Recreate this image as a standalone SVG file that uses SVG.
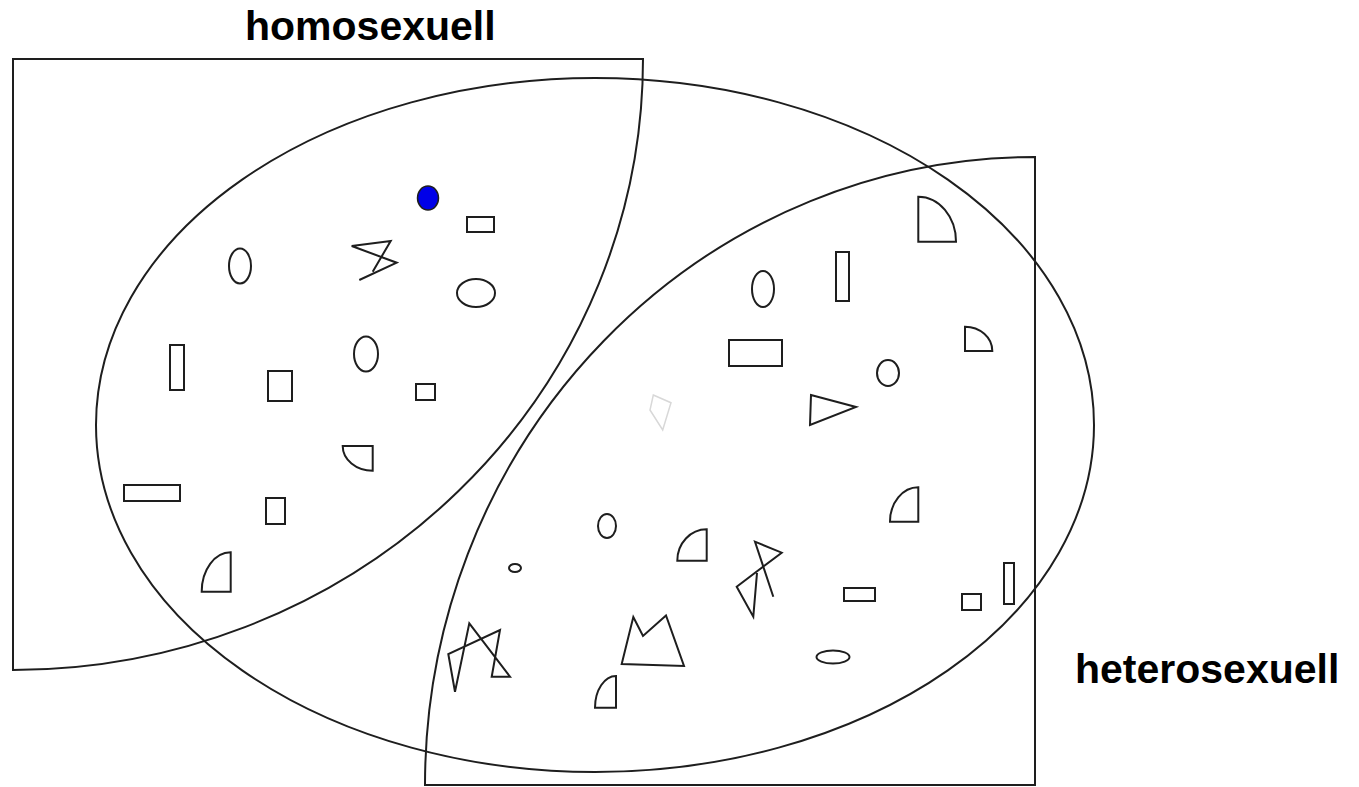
<svg xmlns="http://www.w3.org/2000/svg" width="1359" height="787" viewBox="0 0 1359 787">
<style>
.ln{fill:none;stroke:#1e1e1e;stroke-width:2;stroke-linejoin:miter}
.sh{fill:#fff;stroke:#1e1e1e;stroke-width:2;stroke-linejoin:miter}
.lbl{font-family:"Liberation Sans",Arial,sans-serif;font-weight:bold;font-size:41px;fill:#000}
</style>
<rect width="1359" height="787" fill="#fff"/>
<g id="sets">
  <path id="homo-set" class="ln" d="M13,59 H643 A630,611 0 0 1 13,670 Z"/>
  <path id="hetero-set" class="ln" d="M1035,157 V785 H425 A610,628 0 0 1 1035,157 Z"/>
  <ellipse id="all" class="ln" cx="595" cy="425" rx="499" ry="347"/>
</g>
<g id="labels">
  <text class="lbl" x="245" y="40">homosexuell</text>
  <text class="lbl" x="1075" y="683">heterosexuell</text>
</g>
<g id="homo-shapes">
  <ellipse id="blue-dot" cx="428" cy="198" rx="10.5" ry="12" fill="#0000e8" stroke="#1e1e1e" stroke-width="1.5"/>
  <rect class="sh" x="467" y="217" width="27" height="15"/>
  <ellipse class="sh" cx="240" cy="266" rx="11" ry="17.5"/>
  <polyline class="ln" points="372.7,271.7 390.7,241 351.7,246 396.7,262.7 359.3,280"/>
  <ellipse class="sh" cx="476" cy="293" rx="19" ry="14"/>
  <ellipse class="sh" cx="366" cy="354" rx="12" ry="17.5"/>
  <rect class="sh" x="170" y="345" width="14" height="45"/>
  <rect class="sh" x="268" y="371" width="24" height="30"/>
  <rect class="sh" x="416" y="384" width="19" height="16"/>
  <path class="sh" d="M342.7,446 H372.7 V470.7 A30,24.7 0 0 1 342.7,446 Z"/>
  <rect class="sh" x="124" y="485" width="56" height="16"/>
  <rect class="sh" x="266" y="498" width="19" height="26"/>
  <path class="sh" d="M230.7,552.3 V591.7 H201.7 A29,39.3 0 0 1 230.7,552.3 Z"/>
</g>
<g id="hetero-shapes">
  <path class="sh" d="M918.3,196.7 A37.7,45 0 0 1 956,241.7 H918.3 Z"/>
  <ellipse class="sh" cx="763" cy="289" rx="11" ry="18"/>
  <rect class="sh" x="836" y="252" width="13" height="49"/>
  <path class="sh" d="M965,326.7 A27.3,24.3 0 0 1 992.3,351 H965 Z"/>
  <rect class="sh" x="729" y="340" width="53" height="26"/>
  <ellipse class="sh" cx="888" cy="373" rx="11" ry="13"/>
  <polygon class="sh" points="811,395 856,407 810,425"/>
  <polygon fill="none" stroke="#d8d8d8" stroke-width="1.5" points="653.3,395 671,402.7 662.7,430 650,410"/>
  <path class="sh" d="M918.3,487.3 V521.7 H890 A28.3,34.3 0 0 1 918.3,487.3 Z"/>
  <ellipse class="sh" cx="607" cy="526" rx="9" ry="12"/>
  <path class="sh" d="M706.7,529.3 V560.7 H677.3 A29.4,31.4 0 0 1 706.7,529.3 Z"/>
  <polyline class="ln" points="773.3,596.7 755,541.7 781.7,552.7 736.7,586.7 753.3,616.7 757,573"/>
  <ellipse class="sh" cx="515" cy="568" rx="6" ry="4"/>
  <rect class="sh" x="844" y="588" width="31" height="13"/>
  <rect class="sh" x="962" y="594" width="19" height="16"/>
  <rect class="sh" x="1004" y="563" width="10" height="41"/>
  <polygon class="sh" points="633.3,617 643,636 666,615.5 684,666 621.7,664"/>
  <ellipse class="sh" cx="833" cy="657" rx="16.5" ry="6.5"/>
  <polygon class="ln" points="448.3,654 455,691.7 469.3,623.3 510,676.7 491.7,676.7 500,630"/>
  <path class="sh" d="M616,676 V707.7 H595 A21,31.7 0 0 1 616,676 Z"/>
</g>
<g id="connectors"></g>
</svg>
